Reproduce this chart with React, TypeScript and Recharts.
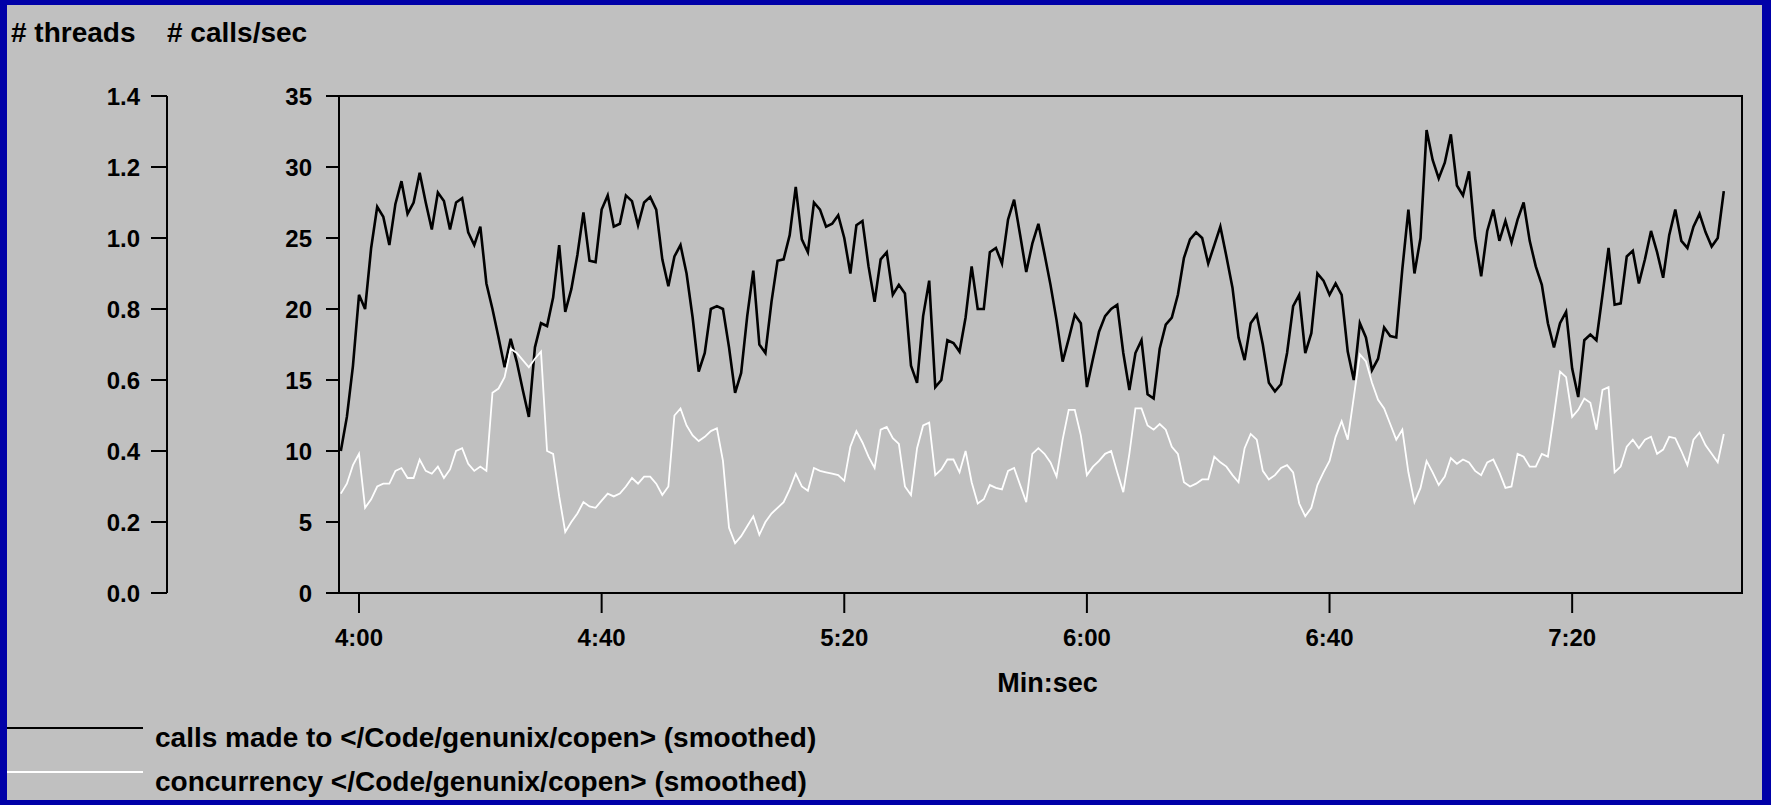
import React from "react";
import { Legend, Line, LineChart, ReferenceArea, XAxis, YAxis } from "recharts";

// one sample per second, first sample at 3:57
const START_SEC = 237;

const callsPerSec = [
  10, 12.4, 16, 21, 20, 24.3, 27.2, 26.5, 24.5, 27.4,
  29, 26.7, 27.5, 29.6, 27.5, 25.6, 28.2, 27.6, 25.6, 27.5,
  27.8, 25.4, 24.5, 25.8, 21.8, 20, 18, 15.9, 17.9, 16.3,
  14.3, 12.4, 17.3, 19, 18.8, 20.8, 24.5, 19.8, 21.4, 23.8,
  26.8, 23.4, 23.3, 27,
  28, 25.8, 26, 28, 27.6, 25.9, 27.5, 27.9, 27, 23.5,
  21.6, 23.7, 24.5, 22.5, 19.4, 15.6, 16.9, 20, 20.2, 20,
  17.3, 14.1, 15.5, 19.5, 22.7, 17.5, 16.9, 20.5, 23.4, 23.5,
  25.2, 28.6, 24.9, 24, 27.5, 27, 25.8, 26, 26.6, 25,
  22.5, 25.9, 26.2, 23, 20.5, 23.5,
  24, 21, 21.7, 21.1, 16, 14.8, 19.5, 22, 14.5, 15,
  17.8, 17.6, 17, 19.4, 23, 20, 20, 24, 24.3, 23.2,
  26.3, 27.7, 25.2, 22.6, 24.6, 26, 23.9, 21.7, 19.2, 16.3,
  17.9, 19.6, 19, 14.5, 16.5, 18.4, 19.5, 20, 20.3, 16.9,
  14.3, 16.9, 17.8, 14, 13.7, 17.2,
  18.9, 19.4, 21, 23.6, 24.9, 25.4, 25, 23.2, 24.5, 25.8,
  23.7, 21.5, 18, 16.4, 19, 19.6, 17.5, 14.8, 14.2, 14.7,
  16.9, 20.2, 21, 16.9, 18.3, 22.5, 22, 21, 21.8, 21,
  17, 15, 19, 18, 15.7, 16.5, 18.7, 18.1, 18, 22.8,
  27, 22.5, 25, 32.6, 30.5, 29.2,
  30.3, 32.3, 28.7, 28, 29.7, 25, 22.3, 25.5, 27, 24.8,
  26.2, 24.7, 26.3, 27.5, 24.8, 23, 21.7, 19, 17.3, 19,
  19.8, 15.8, 13.8, 17.8, 18.2, 17.8, 21, 24.3, 20.3, 20.4,
  23.7, 24.1, 21.8, 23.5, 25.5, 24, 22.2, 25.2, 27, 24.8,
  24.3, 25.8, 26.7, 25.4, 24.4, 25, 28.3,
];

const concurrencyThreads = [
  0.28, 0.308, 0.36, 0.392, 0.24, 0.264, 0.3, 0.308, 0.308, 0.344,
  0.352, 0.324, 0.324, 0.376, 0.344, 0.336, 0.356, 0.324, 0.348, 0.4,
  0.408, 0.364, 0.344, 0.356, 0.344, 0.564, 0.576, 0.608, 0.688, 0.676,
  0.656, 0.636, 0.66, 0.68, 0.4, 0.392, 0.272, 0.172, 0.2, 0.224,
  0.256, 0.244, 0.24, 0.26,
  0.28, 0.272, 0.28, 0.3, 0.324, 0.308, 0.328, 0.328, 0.308, 0.276,
  0.3, 0.5, 0.52, 0.472, 0.444, 0.428, 0.44, 0.456, 0.464, 0.372,
  0.184, 0.14, 0.16, 0.188, 0.216, 0.164, 0.2, 0.224, 0.24, 0.256,
  0.292, 0.336, 0.3, 0.288, 0.352, 0.344, 0.34, 0.336, 0.332, 0.316,
  0.412, 0.456, 0.424, 0.384, 0.352, 0.46,
  0.468, 0.436, 0.42, 0.3, 0.276, 0.408, 0.472, 0.48, 0.332, 0.348,
  0.376, 0.376, 0.34, 0.4, 0.312, 0.252, 0.264, 0.304, 0.296, 0.292,
  0.344, 0.352, 0.304, 0.256, 0.392, 0.408, 0.392, 0.368, 0.328, 0.432,
  0.516, 0.516, 0.444, 0.332, 0.356, 0.372, 0.392, 0.4, 0.34, 0.284,
  0.392, 0.52, 0.52, 0.472, 0.46, 0.476,
  0.46, 0.412, 0.392, 0.312, 0.3, 0.308, 0.32, 0.32, 0.384, 0.368,
  0.356, 0.332, 0.312, 0.408, 0.448, 0.432, 0.344, 0.32, 0.332, 0.352,
  0.36, 0.34, 0.252, 0.216, 0.24, 0.304, 0.34, 0.372, 0.44, 0.484,
  0.432, 0.552, 0.672, 0.652, 0.592, 0.544, 0.52, 0.476, 0.432, 0.46,
  0.34, 0.256, 0.296, 0.372, 0.34, 0.304,
  0.328, 0.38, 0.364, 0.376, 0.368, 0.344, 0.332, 0.368, 0.376, 0.34,
  0.296, 0.3, 0.392, 0.384, 0.356, 0.356, 0.392, 0.384, 0.5, 0.624,
  0.608, 0.496, 0.516, 0.548, 0.536, 0.46, 0.572, 0.58, 0.34, 0.356,
  0.412, 0.432, 0.408, 0.432, 0.44, 0.392, 0.404, 0.44, 0.436, 0.4,
  0.36, 0.432, 0.452, 0.416, 0.392, 0.368, 0.448,
];

const timeTicks = [240, 280, 320, 360, 400, 440];
const callsTicks = [0, 5, 10, 15, 20, 25, 30, 35];
const threadTicks = [0, 0.2, 0.4, 0.6, 0.8, 1.0, 1.2, 1.4];

const CALLS_NAME = "calls made to </Code/genunix/copen> (smoothed)";
const CONC_NAME = "concurrency </Code/genunix/copen> (smoothed)";

const X_DOMAIN: [number, number] = [236.7, 468];

const data = callsPerSec.map((calls, i) => ({
  sec: START_SEC + i,
  calls,
  concurrency: concurrencyThreads[i],
}));

const FONT = "'Liberation Sans', Arial, sans-serif";
const GREY = "#c0c0c0";
const NAVY = "#0000a8";

const tickStyle = { fontFamily: FONT, fontWeight: 700, fontSize: 24, fill: "#000" };
const lineStyle = { stroke: "#000", strokeWidth: 2 };

const fmtTime = (s: number) =>
  `${Math.floor(s / 60)}:${String(s % 60).padStart(2, "0")}`;

function LegendBox({ payload }: any) {
  const rows = payload ?? [];
  return (
    <svg width={900} height={95} style={{ display: "block" }}>
      {rows.map((p: any, i: number) => (
        <g key={p.value}>
          <line x1={7} x2={143} y1={18 + i * 44} y2={18 + i * 44} stroke={p.color} strokeWidth={2} />
          <text
            x={155}
            y={37 + i * 44}
            fontFamily={FONT}
            fontWeight={700}
            fontSize={28}
            fill="#000"
          >
            {p.value}
          </text>
        </g>
      ))}
    </svg>
  );
}

const titleStyle: React.CSSProperties = {
  position: "absolute",
  top: 18,
  fontFamily: FONT,
  fontWeight: 700,
  fontSize: 28,
  lineHeight: "30px",
  color: "#000",
  whiteSpace: "nowrap",
};

export default function App() {
  return (
    <div
      style={{
        position: "absolute",
        left: 0,
        top: 0,
        width: 1771,
        height: 805,
        background: NAVY,
      }}
    >
      <div
        style={{
          position: "absolute",
          left: 7,
          top: 5,
          width: 1755,
          height: 795,
          background: GREY,
        }}
      />
      <div style={{ ...titleStyle, left: 11 }}># threads</div>
      <div style={{ ...titleStyle, left: 167 }}># calls/sec</div>
      <div style={{ position: "absolute", left: 0, top: 0 }}>
        <LineChart
          width={1771}
          height={805}
          data={data}
          margin={{ top: 96, right: 29, bottom: 112, left: 7 }}
        >
          <XAxis
            dataKey="sec"
            type="number"
            domain={X_DOMAIN}
            allowDataOverflow
            ticks={timeTicks}
            tickFormatter={fmtTime}
            tick={tickStyle}
            tickSize={20}
            tickMargin={16}
            axisLine={lineStyle}
            tickLine={lineStyle}
            height={100}
            label={{
              value: "Min:sec",
              position: "insideBottom",
              offset: 1,
              dx: 7,
              style: { fontFamily: FONT, fontWeight: 700, fontSize: 27, fill: "#000" },
            }}
          />
          <YAxis
            yAxisId="calls"
            orientation="left"
            domain={[0, 35]}
            ticks={callsTicks}
            tick={tickStyle}
            tickSize={13}
            tickMargin={14}
            width={172}
            axisLine={lineStyle}
            tickLine={lineStyle}
            allowDataOverflow
          />
          <YAxis
            yAxisId="threads"
            orientation="left"
            domain={[0, 1.4]}
            ticks={threadTicks}
            tickFormatter={(v: number) => v.toFixed(1)}
            tick={tickStyle}
            tickSize={16}
            tickMargin={11}
            width={160}
            axisLine={lineStyle}
            tickLine={lineStyle}
            allowDataOverflow
          />
          <ReferenceArea
            yAxisId="calls"
            x1={X_DOMAIN[0]}
            x2={X_DOMAIN[1]}
            y1={0}
            y2={35}
            fill="none"
            stroke="#000"
            strokeWidth={2}
          />
          <Line
            yAxisId="calls"
            dataKey="calls"
            name={CALLS_NAME}
            type="linear"
            stroke="#000"
            strokeWidth={2.6}
            dot={false}
            activeDot={false}
            isAnimationActive={false}
          />
          <Line
            yAxisId="threads"
            dataKey="concurrency"
            name={CONC_NAME}
            type="linear"
            stroke="#ffffff"
            strokeWidth={1.8}
            dot={false}
            activeDot={false}
            isAnimationActive={false}
          />
          <Legend
            layout="vertical"
            align="center"
            verticalAlign="middle"
            wrapperStyle={{ left: 0, top: 710, width: 900, height: 95 }}
            content={<LegendBox />}
          />
        </LineChart>
      </div>
    </div>
  );
}
